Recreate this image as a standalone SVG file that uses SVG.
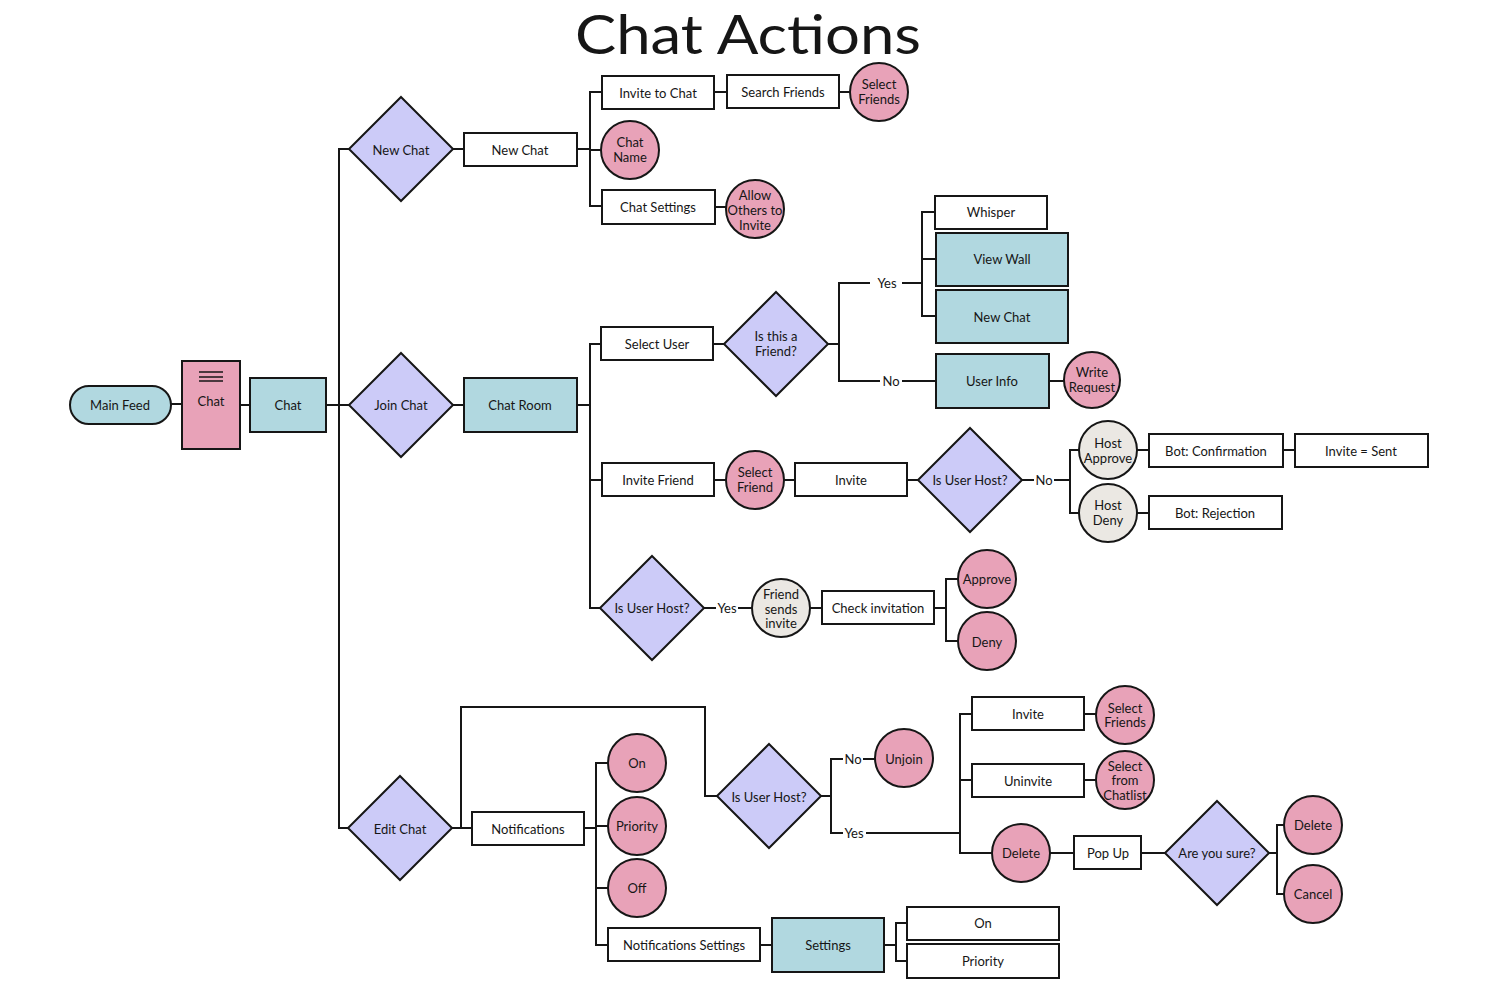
<svg xmlns="http://www.w3.org/2000/svg" width="1499" height="1001" viewBox="0 0 1499 1001">
<style>
.n{stroke:#161616;stroke-width:2}
.w{fill:#ffffff}
.p{fill:#e8a2b8}
.b{fill:#b1d8e0}
.v{fill:#cccbf8}
.g{fill:#ebe8e3}
text{font-family:Lato,"Open Sans","Liberation Sans",sans-serif;font-size:13px;fill:#161616;text-anchor:middle;dominant-baseline:central}
.t{font-size:54px;dominant-baseline:auto}
#edges path{fill:none;stroke:#161616;stroke-width:2}
</style>
<rect width="1499" height="1001" fill="#ffffff"/>
<text class="t" x="748" y="54" textLength="346" lengthAdjust="spacingAndGlyphs">Chat Actions</text>

<g id="edges">
<path d="M171,404H182M240,405H250M326,405H350"/>
<path d="M350,149H339V828H349"/>
<path d="M453,149H464M577,149H590M602,92H590V206H602M590,150H601"/>
<path d="M714,92H727M839,92H850M715,207H726"/>
<path d="M453,405H464M577,405H590M601,344H590V608H600M590,480H602"/>
<path d="M713,344H724M828,344H839M870,283H839V381H880M902,283H922M935,212H922V316H936M922,259H936M902,381H936M1049,381H1064"/>
<path d="M714,480H726M784,480H795M907,480H918M1022,480H1034M1054,480H1070M1080,450H1070V513H1079M1137,450H1149M1283,450H1295M1137,513H1149"/>
<path d="M704,608H716M738,608H752M810,608H822M934,608H946M958,579H946V641H958"/>
<path d="M452,828H472M461,828V707H705V796H717"/>
<path d="M821,796H831M843,759H831V833H843M863,759H875M866,833H960M972,714H960V853H992M960,780H972M1084,714H1096M1084,780H1096M1050,853H1074M1141,853H1165M1269,853H1277M1284,825H1277V894H1284"/>
<path d="M584,828H596M608,763H596V945H608M596,826H608M596,888H608M760,945H772M884,945H896M907,923H896V961H907"/>
</g>

<g id="main-feed"><rect class="n b" x="70" y="386" width="101" height="38" rx="19"/><text x="120" y="405">Main Feed</text></g>
<g id="chat-menu"><rect class="n p" x="182" y="361" width="58" height="88"/><path d="M199,372H223M199,377H223M199,381H223" stroke="#161616" stroke-width="1.6"/><text x="211" y="401">Chat</text></g>
<g id="chat"><rect class="n b" x="250" y="378" width="76" height="54"/><text x="288" y="405">Chat</text></g>

<g id="new-chat-dec"><polygon class="n v" points="401,97 453,149 401,201 349,149"/><text x="401" y="150">New Chat</text></g>
<g id="new-chat"><rect class="n w" x="464" y="133" width="113" height="33"/><text x="520" y="150">New Chat</text></g>
<g id="invite-to-chat"><rect class="n w" x="602" y="76" width="112" height="33"/><text x="658" y="93">Invite to Chat</text></g>
<g id="search-friends"><rect class="n w" x="727" y="75" width="112" height="33"/><text x="783" y="92">Search Friends</text></g>
<g id="select-friends-1"><circle class="n p" cx="879" cy="92" r="29"/><text x="879" y="84">Select</text><text x="879" y="99">Friends</text></g>
<g id="chat-name"><circle class="n p" cx="630" cy="150" r="29"/><text x="630" y="142">Chat</text><text x="630" y="157">Name</text></g>
<g id="chat-settings"><rect class="n w" x="602" y="190" width="113" height="34"/><text x="658" y="207">Chat Settings</text></g>
<g id="allow-others"><circle class="n p" cx="755" cy="209" r="29"/><text x="755" y="195">Allow</text><text x="755" y="210">Others to</text><text x="755" y="225">Invite</text></g>

<g id="join-chat-dec"><polygon class="n v" points="401,353 453,405 401,457 349,405"/><text x="401" y="405">Join Chat</text></g>
<g id="chat-room"><rect class="n b" x="464" y="378" width="113" height="54"/><text x="520" y="405">Chat Room</text></g>
<g id="select-user"><rect class="n w" x="601" y="327" width="112" height="33"/><text x="657" y="344">Select User</text></g>
<g id="is-friend-dec"><polygon class="n v" points="776,292 828,344 776,396 724,344"/><text x="776" y="336">Is this a</text><text x="776" y="351">Friend?</text></g>
<g id="yes-1"><text x="887" y="283">Yes</text></g>
<g id="no-1"><text x="891" y="381">No</text></g>
<g id="whisper"><rect class="n w" x="935" y="196" width="112" height="33"/><text x="991" y="212">Whisper</text></g>
<g id="view-wall"><rect class="n b" x="936" y="233" width="132" height="53"/><text x="1002" y="259">View Wall</text></g>
<g id="new-chat-2"><rect class="n b" x="936" y="290" width="132" height="53"/><text x="1002" y="317">New Chat</text></g>
<g id="user-info"><rect class="n b" x="936" y="354" width="113" height="54"/><text x="992" y="381">User Info</text></g>
<g id="write-request"><circle class="n p" cx="1092" cy="380" r="28"/><text x="1092" y="372">Write</text><text x="1092" y="387">Request</text></g>

<g id="invite-friend"><rect class="n w" x="602" y="463" width="112" height="33"/><text x="658" y="480">Invite Friend</text></g>
<g id="select-friend"><circle class="n p" cx="755" cy="480" r="29"/><text x="755" y="472">Select</text><text x="755" y="487">Friend</text></g>
<g id="invite-1"><rect class="n w" x="795" y="463" width="112" height="33"/><text x="851" y="480">Invite</text></g>
<g id="is-host-dec-1"><polygon class="n v" points="970,428 1022,480 970,532 918,480"/><text x="970" y="480">Is User Host?</text></g>
<g id="no-2"><text x="1044" y="480">No</text></g>
<g id="host-approve"><circle class="n g" cx="1108" cy="450" r="29"/><text x="1108" y="443">Host</text><text x="1108" y="458">Approve</text></g>
<g id="host-deny"><circle class="n g" cx="1108" cy="513" r="29"/><text x="1108" y="505">Host</text><text x="1108" y="520">Deny</text></g>
<g id="bot-confirmation"><rect class="n w" x="1149" y="434" width="134" height="33"/><text x="1216" y="451">Bot: Confirmation</text></g>
<g id="invite-sent"><rect class="n w" x="1295" y="434" width="133" height="33"/><text x="1361" y="451">Invite = Sent</text></g>
<g id="bot-rejection"><rect class="n w" x="1149" y="496" width="133" height="33"/><text x="1215" y="513">Bot: Rejection</text></g>

<g id="is-host-dec-2"><polygon class="n v" points="652,556 704,608 652,660 600,608"/><text x="652" y="608">Is User Host?</text></g>
<g id="yes-2"><text x="727" y="608">Yes</text></g>
<g id="friend-sends"><circle class="n g" cx="781" cy="608" r="29"/><text x="781" y="594">Friend</text><text x="781" y="609">sends</text><text x="781" y="623">invite</text></g>
<g id="check-invitation"><rect class="n w" x="822" y="591" width="112" height="33"/><text x="878" y="608">Check invitation</text></g>
<g id="approve"><circle class="n p" cx="987" cy="579" r="29"/><text x="987" y="579">Approve</text></g>
<g id="deny"><circle class="n p" cx="987" cy="641" r="29"/><text x="987" y="642">Deny</text></g>

<g id="edit-chat-dec"><polygon class="n v" points="400,776 452,828 400,880 348,828"/><text x="400" y="829">Edit Chat</text></g>
<g id="notifications"><rect class="n w" x="472" y="812" width="112" height="33"/><text x="528" y="829">Notifications</text></g>
<g id="on-1"><circle class="n p" cx="637" cy="763" r="29"/><text x="637" y="763">On</text></g>
<g id="priority-1"><circle class="n p" cx="637" cy="826" r="29"/><text x="637" y="826">Priority</text></g>
<g id="off"><circle class="n p" cx="637" cy="888" r="29"/><text x="637" y="888">Off</text></g>
<g id="notifications-settings"><rect class="n w" x="608" y="928" width="152" height="33"/><text x="684" y="945">Notifications Settings</text></g>
<g id="settings"><rect class="n b" x="772" y="918" width="112" height="54"/><text x="828" y="945">Settings</text></g>
<g id="on-2"><rect class="n w" x="907" y="907" width="152" height="33"/><text x="983" y="923">On</text></g>
<g id="priority-2"><rect class="n w" x="907" y="944" width="152" height="34"/><text x="983" y="961">Priority</text></g>

<g id="is-host-dec-3"><polygon class="n v" points="769,744 821,796 769,848 717,796"/><text x="769" y="797">Is User Host?</text></g>
<g id="no-3"><text x="853" y="759">No</text></g>
<g id="yes-3"><text x="854" y="833">Yes</text></g>
<g id="unjoin"><circle class="n p" cx="904" cy="758" r="29"/><text x="904" y="759">Unjoin</text></g>
<g id="invite-2"><rect class="n w" x="972" y="697" width="112" height="33"/><text x="1028" y="714">Invite</text></g>
<g id="select-friends-2"><circle class="n p" cx="1125" cy="715" r="29"/><text x="1125" y="708">Select</text><text x="1125" y="722">Friends</text></g>
<g id="uninvite"><rect class="n w" x="972" y="764" width="112" height="33"/><text x="1028" y="781">Uninvite</text></g>
<g id="select-chatlist"><circle class="n p" cx="1125" cy="780" r="29"/><text x="1125" y="766">Select</text><text x="1125" y="780">from</text><text x="1125" y="795">Chatlist</text></g>
<g id="delete-1"><circle class="n p" cx="1021" cy="853" r="29"/><text x="1021" y="853">Delete</text></g>
<g id="pop-up"><rect class="n w" x="1074" y="836" width="67" height="33"/><text x="1108" y="853">Pop Up</text></g>
<g id="are-you-sure"><polygon class="n v" points="1217,801 1269,853 1217,905 1165,853"/><text x="1217" y="853">Are you sure?</text></g>
<g id="delete-2"><circle class="n p" cx="1313" cy="825" r="29"/><text x="1313" y="825">Delete</text></g>
<g id="cancel"><circle class="n p" cx="1313" cy="894" r="29"/><text x="1313" y="894">Cancel</text></g>
</svg>
